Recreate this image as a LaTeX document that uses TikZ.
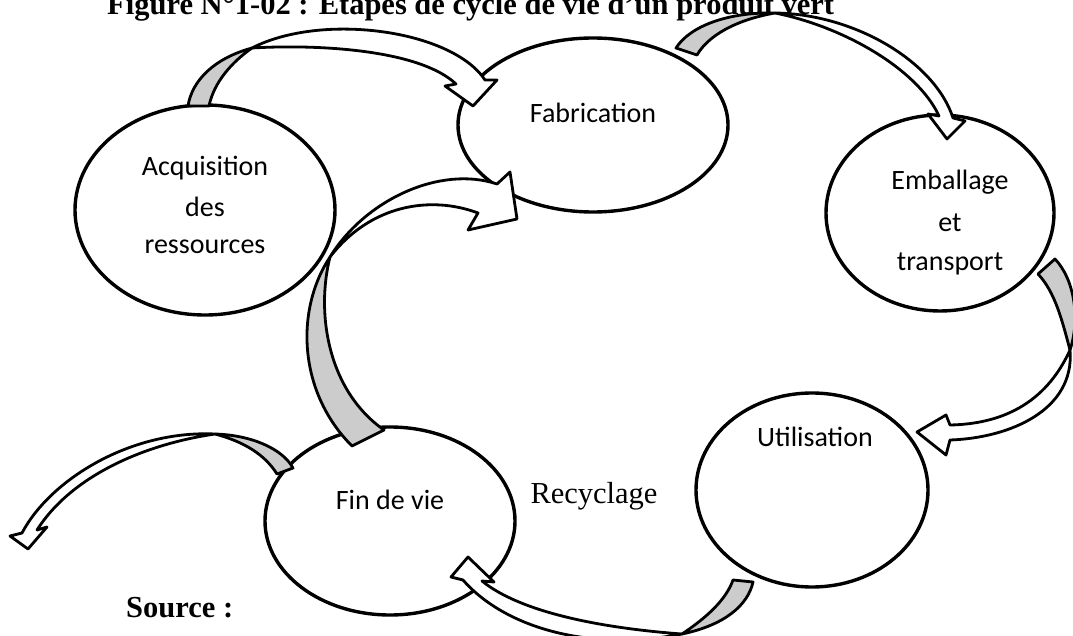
\documentclass[tikz,border=0pt]{standalone}
\usepackage{fontspec}
\setmainfont{Liberation Serif}
\newfontfamily\calibri{Carlito}
\usetikzlibrary{shapes.geometric}
\definecolor{backgrey}{HTML}{CCCCCC}
\begin{document}
\begin{tikzpicture}[x=1pt,y=-1pt,
  stage/.style={draw, line width=3.4pt, ellipse, inner sep=0pt, outer sep=0pt},
  stagetext/.style={font=\calibri\fontsize{28}{39}\selectfont, inner sep=0pt, anchor=base},
  ribbonback/.style={draw, fill=backgrey, line width=2.8pt, line join=round},
  ribbonfront/.style={draw, fill=white, line width=2.8pt, line join=round},
  serifbold/.style={font=\bfseries\fontsize{30.5}{36}\selectfont, inner sep=0pt},
  serifplain/.style={font=\fontsize{30.5}{36}\selectfont, inner sep=0pt, anchor=base},
  ]
\useasboundingbox (0,0) rectangle (1073,636);

% title and source line
\node[serifbold, anchor=base west] (title) at (107,15) {Figure N°1-02 : Etapes de cycle de vie d'un produit vert};
\node[serifbold, anchor=base west] (source) at (126,617) {Source :};

% the five stages
\node[stage, minimum width=260pt, minimum height=210pt] (acq) at (205,210) {};
\node[stage, minimum width=270pt, minimum height=174pt] (fab) at (593,125) {};
\node[stage, minimum width=228pt, minimum height=196pt] (emb) at (940,213) {};
\node[stage, minimum width=232pt, minimum height=194pt] (uti) at (812,490) {};
\node[stage, minimum width=250pt, minimum height=188pt] (fin) at (390,521) {};

% curved ribbon arrows: grey back face first, then white front with head
% acquisition -> fabrication
\path[ribbonback] (188,106) .. controls (192,80) and (215,58) .. (252,48)
  .. controls (232,62) and (214,82) .. (209,106) -- cycle;
\path[ribbonfront] (252,48) .. controls (322,12) and (452,30) .. (485,80)
  -- (497,80) -- (473,106) -- (445,86) -- (456,84)
  .. controls (420,50) and (320,44) .. (252,48) -- cycle;

% fabrication -> emballage
\path[ribbonback] (676,48) .. controls (690,26) and (728,12) .. (775,13)
  .. controls (735,20) and (708,36) .. (697,55) -- cycle;
\path[ribbonfront] (775,13) .. controls (855,14) and (935,62) .. (953,118)
  -- (965,121) -- (947,139) -- (928,114) -- (939,116)
  .. controls (918,70) and (845,27) .. (775,13) -- cycle;

% emballage -> utilisation
\path[ribbonback] (1055,259) .. controls (1075,280) and (1080,320) .. (1070,350)
  .. controls (1062,320) and (1055,292) .. (1038,274) -- cycle;
\path[ribbonfront] (1070,350) .. controls (1075,410) and (1010,438) .. (950,440)
  -- (946,455) -- (917,432) -- (946,415) -- (950,425)
  .. controls (1000,424) and (1045,405) .. (1070,350) -- cycle;

% utilisation -> fin de vie
\path[ribbonback] (753,582) .. controls (748,605) and (725,625) .. (682,634)
  .. controls (706,618) and (726,600) .. (733,580) -- cycle;
\path[ribbonfront] (682,634) .. controls (590,652) and (505,628) .. (463,580)
  -- (451,577) -- (468,557) -- (494,582) -- (482,581)
  .. controls (520,612) and (600,628) .. (682,634) -- cycle;

% fin de vie -> fabrication
\path[ribbonback] (352,446) .. controls (298,392) and (295,310) .. (330,257)
  .. controls (316,312) and (327,390) .. (384,430) -- cycle;
\path[ribbonfront] (330,257) .. controls (365,200) and (440,165) .. (497,184)
  -- (510,172) -- (517,219) -- (468,230) -- (478,213)
  .. controls (430,195) and (370,205) .. (330,257) -- cycle;

% fin de vie -> out of the cycle
\path[ribbonback] (293,468) .. controls (282,448) and (250,435) .. (215,434)
  .. controls (245,442) and (265,455) .. (277,474) -- cycle;
\path[ribbonfront] (215,434) .. controls (130,430) and (50,480) .. (22,533)
  -- (10,536) -- (28,549) -- (47,527) -- (37,530)
  .. controls (70,478) and (140,445) .. (215,434) -- cycle;

% stage labels
\node[stagetext] (acq1) at (205,176) {Acquisition};
\node[stagetext] (acq2) at (205,217) {des};
\node[stagetext] (acq3) at (205,254) {ressources};
\node[stagetext] (fab1) at (593,123) {Fabrication};
\node[stagetext] (emb1) at (950,190) {Emballage};
\node[stagetext] (emb2) at (950,232) {et};
\node[stagetext] (emb3) at (950,270) {transport};
\node[stagetext] (uti1) at (815,446) {Utilisation};
\node[stagetext] (fin1) at (390,509) {Fin de vie};
\node[serifplain] (recy) at (594,503) {Recyclage};
\end{tikzpicture}
\end{document}
